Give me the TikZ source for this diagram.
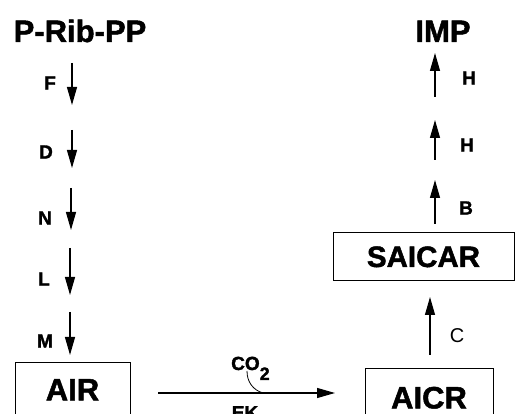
\documentclass[tikz,border=0pt]{standalone}
\usepackage{fontspec}
\setmainfont{Liberation Sans}[BoldFeatures={FakeBold=1.6}]
\usetikzlibrary{arrows.meta}
\begin{document}
\begin{tikzpicture}[x=1pt,y=-1pt,
  flow/.style={line width=1.1pt, -{Triangle[length=18pt,width=10pt]}},
  enz/.style={font=\bfseries\fontsize{19}{19}\selectfont, inner sep=0pt},
  met/.style={font=\bfseries\fontsize{31}{31}\selectfont, inner sep=0pt,
              text height=22pt, text depth=0pt},
  metbox/.style={met, draw, line width=0.9pt}]
\useasboundingbox (0,0) rectangle (515,414);
\clip (0,0) rectangle (515,414);

% metabolites
\node[met] (prpp) at (80,31) {P-Rib-PP};
\node[met] (imp) at (443,31) {IMP};
\node[metbox, anchor=north, minimum width=115pt, inner xsep=0pt,
      inner ysep=16pt, text depth=40pt] (air) at (72.5,362) {AIR};
\node[metbox, anchor=north, minimum width=128pt, inner xsep=0pt,
      inner ysep=18pt, text depth=40pt] (aicr) at (429,368) {AICR};
\node[metbox, minimum width=181pt, minimum height=48pt,
      font=\bfseries\fontsize{29.5}{29.5}\selectfont] (saicar) at (423.5,256) {SAICAR};

% enzyme labels, left column
\node[enz] (eF) at (50,83) {F};
\node[enz] (eD) at (46,152) {D};
\node[enz] (eN) at (45,218) {N};
\node[enz] (eL) at (44,279) {L};
\node[enz] (eM) at (45,341) {M};

% enzyme labels, right column
\node[enz] (eH1) at (469,78) {H};
\node[enz] (eH2) at (467,145) {H};
\node[enz] (eB) at (466,208) {B};
\node[font=\fontsize{20}{20}\selectfont, inner sep=0pt] (eC) at (457,336) {C};

% carboxylation
\node[font=\bfseries\fontsize{19}{19}\selectfont, inner sep=0pt, anchor=base west]
  (co2) at (231,370) {CO\raisebox{-10pt}{\fontsize{18}{18}\selectfont 2}};
\node[enz, anchor=north] (eEK) at (245,406) {EK};

% arrow end points
\coordinate (f0) at (72,63);   \coordinate (f1) at (72,105);
\coordinate (d0) at (72,130);  \coordinate (d1) at (72,168);
\coordinate (n0) at (71,188);  \coordinate (n1) at (71,230);
\coordinate (l0) at (70,248);  \coordinate (l1) at (70,295);
\coordinate (m0) at (70,312);  \coordinate (m1) at (70,355);
\coordinate (h0) at (435,97);  \coordinate (h1) at (435,53);
\coordinate (g0) at (435,160); \coordinate (g1) at (435,120);
\coordinate (b0) at (435,224); \coordinate (b1) at (435,180);
\coordinate (c0) at (430,355); \coordinate (c1) at (430,297);
\coordinate (k0) at (158,393); \coordinate (k1) at (335,393);
\coordinate (co2foot) at (247,371);
\coordinate (co2join) at (263,393);

% pathway arrows
\foreach \a/\b in {f0/f1,d0/d1,n0/n1,l0/l1,m0/m1,h0/h1,g0/g1,b0/b1,c0/c1,k0/k1}
  \draw[flow] (\a) -- (\b);

% CO2 entering the carboxylation step
\draw[line width=0.8pt] (co2foot) .. controls (247,382) and (253,390) .. (co2join);
\end{tikzpicture}
\end{document}
